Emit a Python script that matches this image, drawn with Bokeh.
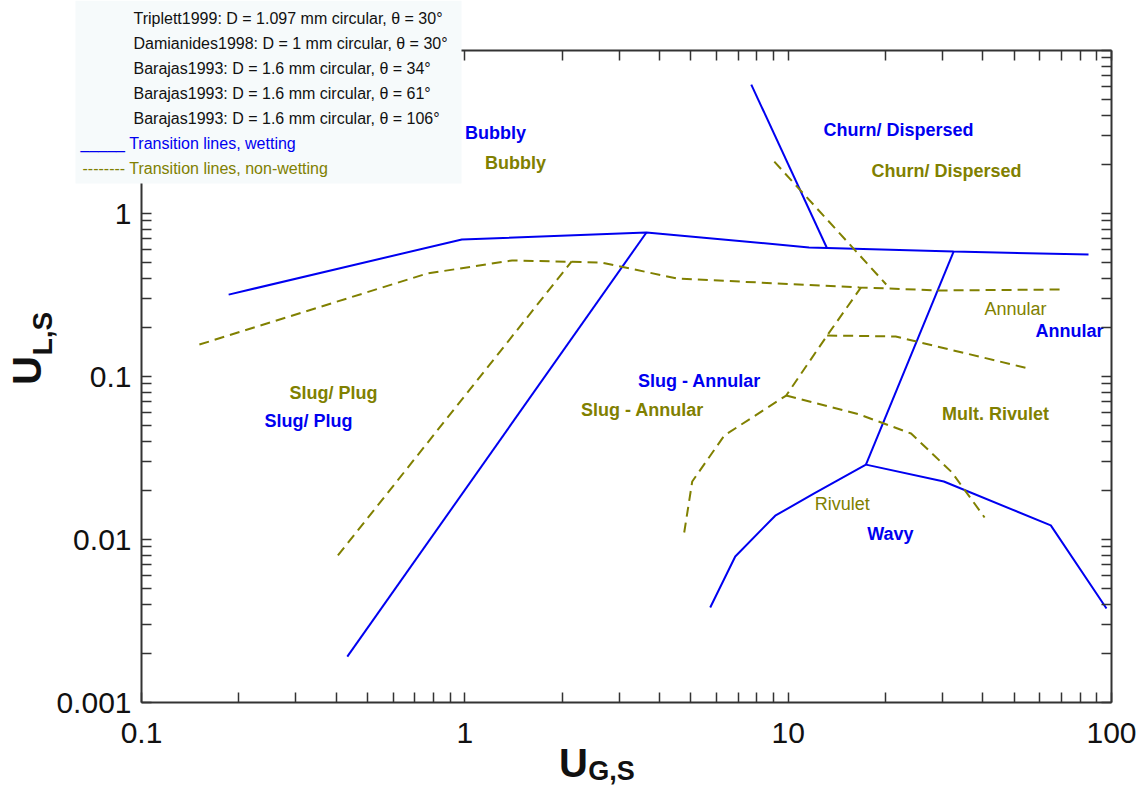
import numpy as np
from bokeh.plotting import figure
from bokeh.models import (FixedTicker, CustomJSTickFormatter, LogAxis, Label,
                          BoxAnnotation, ColumnDataSource)
from bokeh.embed import file_html
from bokeh.resources import INLINE
from bokeh.core.properties import value

# ---------------- data ----------------
# wetting transition lines (solid blue)
wet_bubbly_x = [0.186, 0.979, 3.645, 11.6, 32.5, 84.9]
wet_bubbly_y = [0.318, 0.693, 0.765, 0.619, 0.585, 0.560]
wet_slug_x = [0.433, 3.645]
wet_slug_y = [0.00191, 0.765]
wet_churn_x = [7.69, 13.2]
wet_churn_y = [6.18, 0.610]
wet_annular_x = [32.5, 17.4]
wet_annular_y = [0.585, 0.0288]
wet_wavy_x = [5.74, 6.86, 9.12, 12.0, 17.4, 30.3, 64.9, 96.5]
wet_wavy_y = [0.00383, 0.00787, 0.0140, 0.0191, 0.0288, 0.0227, 0.0122, 0.00377]

# non-wetting transition lines (dashed olive)
nw_bubbly_x = [0.151, 0.763, 1.40, 2.65, 4.54, 16.6, 29.2, 72.1]
nw_bubbly_y = [0.157, 0.428, 0.515, 0.500, 0.399, 0.352, 0.337, 0.342]
nw_slug_x = [0.405, 2.14]
nw_slug_y = [0.00798, 0.508]
nw_churn_x = [9.06, 20.1]
nw_churn_y = [2.08, 0.367]
nw_slugann_x = [4.77, 5.05, 6.35, 9.86, 13.2, 16.8]
nw_slugann_y = [0.01104, 0.0227, 0.0435, 0.0764, 0.1785, 0.352]
nw_annular_x = [13.2, 21.5, 55.4]
nw_annular_y = [0.1785, 0.176, 0.112]
nw_rivulet_x = [9.86, 16.6, 24.0, 32.1, 40.5]
nw_rivulet_y = [0.0764, 0.0585, 0.0447, 0.0258, 0.01365]

# regime labels
wet_labels = ["Bubbly", "Churn/ Dispersed", "Annular", "Slug - Annular", "Slug/ Plug", "Wavy"]
wet_label_x = [1.245, 21.95, 74.2, 5.32, 0.3285, 20.7]
wet_label_y = [3.10, 3.23, 0.189, 0.0945, 0.0537, 0.01074]

nw_bold_labels = ["Bubbly", "Churn/ Dispersed", "Slug/ Plug", "Slug - Annular", "Mult. Rivulet"]
nw_bold_x = [1.435, 30.9, 0.3926, 3.545, 43.8]
nw_bold_y = [2.03, 1.835, 0.0787, 0.0627, 0.0585]

nw_plain_labels = ["Annular", "Rivulet"]
nw_plain_x = [50.5, 14.7]
nw_plain_y = [0.261, 0.0164]

legend_sources = [
    "Triplett1999: D = 1.097 mm circular, θ = 30°",
    "Damianides1998: D = 1 mm circular, θ = 30°",
    "Barajas1993: D = 1.6 mm circular, θ = 34°",
    "Barajas1993: D = 1.6 mm circular, θ = 61°",
    "Barajas1993: D = 1.6 mm circular, θ = 106°",
]
legend_wet = "_____ Transition lines, wetting"
legend_nw = "-------- Transition lines, non-wetting"

x_major = [0.1, 1, 10, 100]
x_tick_labels = ["0.1", "1", "10", "100"]
y_major = [0.001, 0.01, 0.1, 1, 10]
y_tick_labels = ["0.001", "0.01", "0.1", "1", ""]

# ---------------- layout / styling ----------------
BLUE = "#0000f0"
OLIVE = "#808000"
FONT = "Liberation Sans"
AX = "#333333"

X0, X1 = 0.1, 100          # axis extent
Y0, Y1 = 0.001, 10
W, H = 1140, 790           # canvas size
FL, FT, FW, FH = 141, 50, 970, 652   # plot box position on the canvas (px)

LX = np.log10(X1 / X0) / FW   # decades per px
LY = np.log10(Y1 / Y0) / FH


def px2x(px):
    return 10 ** (np.log10(X0) + (px - FL) * LX)


def px2y(py):
    return 10 ** (np.log10(Y1) - (py - FT) * LY)


# the frame covers the whole canvas, so texts outside the plot box are not clipped
p = figure(x_axis_type="log", y_axis_type="log",
           x_range=(px2x(0), px2x(W)), y_range=(px2y(H), px2y(0)),
           width=W, height=H, min_border=0,
           x_axis_location=None, y_axis_location=None,
           output_backend="svg", toolbar_location=None,
           outline_line_color=None, background_fill_color="white",
           border_fill_color="white")
p.grid.visible = False

x_minor = [k * 10.0 ** e for e in (-1, 0, 1) for k in range(2, 10)]
y_minor = [k * 10.0 ** e for e in (-3, -2, -1, 0) for k in range(2, 10)]

fmt_code = """
for (let i = 0; i < vals.length; i++) {
  if (Math.abs(Math.log10(vals[i]) - Math.log10(tick)) < 1e-6) return labs[i];
}
return "";
"""


def make_axis(is_x, loc, show):
    ticks = x_major if is_x else y_major
    minors = x_minor if is_x else y_minor
    labs = x_tick_labels if is_x else y_tick_labels
    if show:
        fmt = CustomJSTickFormatter(args=dict(vals=ticks, labs=labs), code=fmt_code)
    else:
        fmt = CustomJSTickFormatter(code="return '';")
    ax = LogAxis(ticker=FixedTicker(ticks=ticks, minor_ticks=minors), formatter=fmt,
                 fixed_location=loc, bounds=(X0, X1) if is_x else (Y0, Y1))
    ax.axis_line_color = AX
    ax.axis_line_width = 2
    ax.major_tick_in = 10
    ax.major_tick_out = 0
    ax.minor_tick_in = 10
    ax.minor_tick_out = 0
    ax.major_tick_line_color = AX
    ax.minor_tick_line_color = AX
    ax.major_tick_line_width = 1.5
    ax.minor_tick_line_width = 1.5
    ax.major_label_text_font = FONT
    ax.major_label_text_font_size = "30px" if show else "1px"
    ax.major_label_text_color = "#111111"
    return ax


bottom = make_axis(True, Y0, True)
bottom.major_label_standoff = 20
p.add_layout(bottom, "below")
left = make_axis(False, X0, True)
left.major_label_standoff = 10
left.major_label_orientation = "horizontal"
p.add_layout(left, "left")
top = make_axis(True, Y1, False)
p.add_layout(top, "above")
right = make_axis(False, X1, False)
p.add_layout(right, "right")

# ---------------- lines ----------------
for xs, ys in [(wet_bubbly_x, wet_bubbly_y), (wet_slug_x, wet_slug_y),
               (wet_churn_x, wet_churn_y), (wet_annular_x, wet_annular_y),
               (wet_wavy_x, wet_wavy_y)]:
    p.line(xs, ys, line_color=BLUE, line_width=2)

for xs, ys in [(nw_bubbly_x, nw_bubbly_y), (nw_slug_x, nw_slug_y),
               (nw_churn_x, nw_churn_y), (nw_slugann_x, nw_slugann_y),
               (nw_annular_x, nw_annular_y), (nw_rivulet_x, nw_rivulet_y)]:
    p.line(xs, ys, line_color=OLIVE, line_width=2, line_dash="10 6")

# ---------------- regime labels ----------------
src_w = ColumnDataSource(dict(x=wet_label_x, y=wet_label_y, t=wet_labels))
p.text("x", "y", text="t", source=src_w, text_color=BLUE, text_font=value(FONT),
       text_font_style="bold", text_font_size="18px", text_align="center",
       text_baseline="middle")
src_nb = ColumnDataSource(dict(x=nw_bold_x, y=nw_bold_y, t=nw_bold_labels))
p.text("x", "y", text="t", source=src_nb, text_color=OLIVE, text_font=value(FONT),
       text_font_style="bold", text_font_size="18px", text_align="center",
       text_baseline="middle")
src_np = ColumnDataSource(dict(x=nw_plain_x, y=nw_plain_y, t=nw_plain_labels))
p.text("x", "y", text="t", source=src_np, text_color=OLIVE, text_font=value(FONT),
       text_font_size="18px", text_align="center", text_baseline="middle")

# ---------------- legend box ----------------
box = BoxAnnotation(left=px2x(75), right=px2x(461), top=px2y(0), bottom=px2y(183),
                    fill_color="#f6fafb", fill_alpha=1.0, line_color=None)
p.add_layout(box)

for i, s in enumerate(legend_sources):
    p.add_layout(Label(x=px2x(133), y=px2y(18 + 25 * i), text=s, text_font=FONT,
                       text_font_size="16px", text_color="#111111",
                       text_align="left", text_baseline="middle"))
p.add_layout(Label(x=px2x(80), y=px2y(143), text=legend_wet, text_font=FONT,
                   text_font_size="16px", text_color=BLUE,
                   text_align="left", text_baseline="middle"))
p.add_layout(Label(x=px2x(82), y=px2y(168), text=legend_nw, text_font=FONT,
                   text_font_size="16px", text_color=OLIVE,
                   text_align="left", text_baseline="middle"))

# ---------------- axis titles ----------------
p.add_layout(Label(x=px2x(573), y=px2y(762), text="U", text_font=FONT,
                   text_font_size="40px", text_font_style="bold", text_color="#111111",
                   text_align="center", text_baseline="middle"))
p.add_layout(Label(x=px2x(611), y=px2y(770), text="G,S", text_font=FONT,
                   text_font_size="27px", text_font_style="bold", text_color="#111111",
                   text_align="center", text_baseline="middle"))
p.add_layout(Label(x=px2x(26), y=px2y(370), text="U", text_font=FONT, angle=np.pi / 2,
                   text_font_size="40px", text_font_style="bold", text_color="#111111",
                   text_align="center", text_baseline="middle"))
p.add_layout(Label(x=px2x(42), y=px2y(333), text="L,S", text_font=FONT, angle=np.pi / 2,
                   text_font_size="28px", text_font_style="bold", text_color="#111111",
                   text_align="center", text_baseline="middle"))

open("out.html", "w").write(file_html(p, INLINE))
